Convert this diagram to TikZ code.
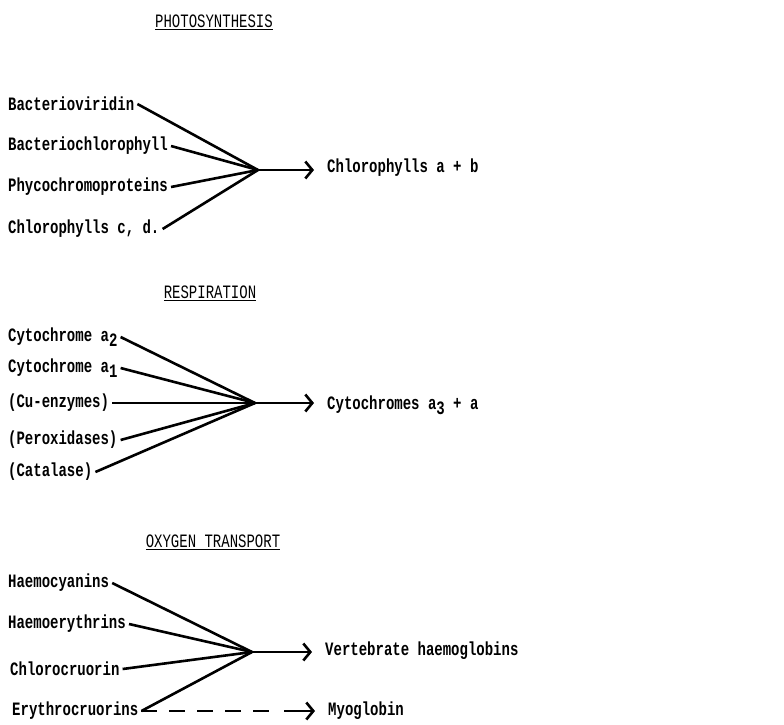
\documentclass[tikz,border=0pt]{standalone}
\usepackage{fontspec}
\setmainfont{Liberation Mono}
\usetikzlibrary{arrows.meta}
\tikzset{
  item/.style={anchor=west, inner sep=3pt, font=\fontsize{14}{16}\selectfont\bfseries},
  head/.style={font=\fontsize{14}{16}\selectfont},
  feed/.style={line width=2.6pt},
  arr/.style={line width=2.6pt, -{Straight Barb[length=7pt,width=17pt,line width=2.6pt]}, shorten >=10pt}
}
\newcommand{\sub}[1]{\raisebox{-4pt}{#1}}
\newcommand{\tw}[1]{\scalebox{1}[1.35]{#1}}
\begin{document}
\begin{tikzpicture}[x=1pt, y=-1pt]
\useasboundingbox (0,0) rectangle (784,724);
% photosynthesis
\node[head] (tph) at (214,22) {\underline{\tw{PHOTOSYNTHESIS}}};
\node[item] (bv) at (5,104) {\tw{Bacterioviridin}};
\node[item] (bc) at (5,146) {\tw{Bacteriochlorophyll}};
\node[item] (pc) at (5,187) {\tw{Phycochromoproteins}};
\node[item] (cd) at (5,229) {\tw{Chlorophylls c, d.}};
\node[item] (cab) at (324,168) {\tw{Chlorophylls a + b}};
\coordinate (ph) at (258,170);
\draw[feed] (bv.east) -- (ph);
\draw[feed] (bc.east) -- (ph);
\draw[feed] (pc.east) -- (ph);
\draw[feed] (cd.east) -- (ph);
\draw[arr] (ph) -- (cab.west |- ph);
% respiration
\node[head] (tre) at (210,293) {\underline{\tw{RESPIRATION}}};
\node[item] (ca2) at (5,337) {\tw{Cytochrome a\sub{2}}};
\node[item] (ca1) at (5,368) {\tw{Cytochrome a\sub{1}}};
\node[item] (cu) at (5,403) {\tw{(Cu-enzymes)}};
\node[item] (pe) at (5,440) {\tw{(Peroxidases)}};
\node[item] (ct) at (5,472) {\tw{(Catalase)}};
\node[item] (ca3) at (324,405) {\tw{Cytochromes a\sub{3} + a}};
\coordinate (re) at (255,403);
\draw[feed] (ca2.east) -- (re);
\draw[feed] (ca1.east) -- (re);
\draw[feed] (cu.east) -- (re);
\draw[feed] (pe.east) -- (re);
\draw[feed] (ct.east) -- (re);
\draw[arr] (re) -- (ca3.west |- re);
% oxygen transport
\node[head] (tox) at (213,542) {\underline{\tw{OXYGEN TRANSPORT}}};
\node[item] (hc) at (5,583) {\tw{Haemocyanins}};
\node[item] (he) at (5,624) {\tw{Haemoerythrins}};
\node[item] (cc) at (7,669) {\tw{Chlorocruorin}};
\node[item] (ec) at (9,711) {\tw{Erythrocruorins}};
\node[item] (vh) at (322,651) {\tw{Vertebrate haemoglobins}};
\node[item] (my) at (325,711) {\tw{Myoglobin}};
\coordinate (ox) at (252,652);
\coordinate (md) at (271,711);
\coordinate (ma) at (284,711);
\draw[feed] (hc.east) -- (ox);
\draw[feed] (he.east) -- (ox);
\draw[feed] (cc.east) -- (ox);
\draw[feed] (ec.east) -- (ox);
\draw[arr] (ox) -- (vh.west |- ox);
\draw[feed, dash pattern=on 16pt off 12pt] (ec.east) -- (md);
\draw[arr] (ma) -- (my.west);
\end{tikzpicture}
\end{document}
